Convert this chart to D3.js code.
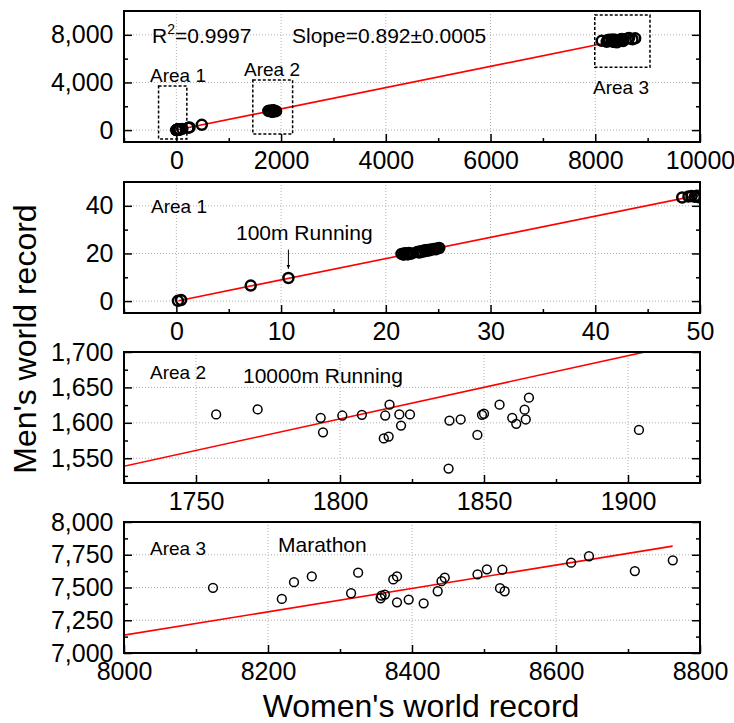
<!DOCTYPE html>
<html>
<head>
<meta charset="utf-8">
<script src="https://cdn.jsdelivr.net/npm/d3@7"></script>
<style>
body{margin:0;background:#fff;}
svg text{font-family:"Liberation Sans",Arial,sans-serif;fill:#000;}
</style>
</head>
<body>
<svg id="chart" width="734" height="723"></svg>
<script>
// values (women / men world records)
var area1Women = [0.15, 0.45, 7.1, 10.7, 21.5, 21.7, 21.8, 22.0, 22.1, 22.2, 22.3, 22.5, 23.0, 23.2, 23.3, 23.5, 23.7, 23.8, 24.0, 24.1, 24.2, 24.4, 24.6, 24.8, 24.9, 25.1, 48.3, 48.9, 49.2, 49.5, 49.7, 49.9];
var area1Men   = [0.1, 0.45, 6.5, 9.7, 19.8, 19.5, 20.1, 20.0, 19.6, 20.2, 19.9, 20.0, 20.6, 20.4, 20.9, 20.7, 21.3, 21.0, 21.4, 21.2, 21.6, 21.7, 21.9, 21.8, 22.1, 22.3, 43.5, 43.9, 44.1, 43.8, 44.2, 43.6];
var midWomen = [113, 230, 252, 486];
var midMen   = [101, 206, 223, 440];
var area2Women = [1757.0, 1771.4, 1793.3, 1794.1, 1800.8, 1807.6, 1815.7, 1817.2, 1815.2, 1816.9, 1820.6, 1821.2, 1824.3, 1838.0, 1837.7, 1841.9, 1847.7, 1849.3, 1850.0, 1855.4, 1859.8, 1861.2, 1864.1, 1864.5, 1865.6, 1903.8];
var area2Men   = [1611.8, 1618.9, 1607.1, 1586.6, 1610.3, 1611.3, 1610.3, 1625.6, 1578.0, 1580.5, 1611.8, 1596.1, 1611.8, 1603.2, 1535.4, 1604.7, 1582.9, 1611.3, 1612.8, 1625.6, 1607.1, 1598.5, 1618.5, 1604.7, 1635.5, 1590.0];
var area3Women = [8123.6, 8219.2, 8236.1, 8260.8, 8315.4, 8325.2, 8356.4, 8357.7, 8362.3, 8374.0, 8379.2, 8379.2, 8395.4, 8416.2, 8435.7, 8441.0, 8445.5, 8491.0, 8504.0, 8522.2, 8525.5, 8528.7, 8621.0, 8645.8, 8709.5, 8762.2];
var area3Men   = [7497.7, 7413.0, 7541.0, 7584.6, 7456.0, 7613.0, 7418.0, 7438.5, 7446.0, 7561.5, 7584.6, 7387.0, 7407.7, 7379.0, 7471.5, 7548.5, 7574.6, 7600.0, 7638.5, 7494.6, 7636.0, 7471.5, 7689.7, 7738.5, 7625.6, 7707.7];

var fitSlope = 0.892;
var fitRange = [0.2, 8762];

// tick values
var p1XTicks = [0, 2000, 4000, 6000, 8000, 10000], p1XMinor = [-1000, 1000, 3000, 5000, 7000, 9000];
var p1YTicks = [0, 4000, 8000], p1YMinor = [2000, 6000];
var p2XTicks = [0, 10, 20, 30, 40, 50], p2XMinor = [-5, 5, 15, 25, 35, 45];
var p2YTicks = [0, 20, 40], p2YMinor = [10, 30];
var p3XTicks = [1750, 1800, 1850, 1900], p3XMinor = [1725, 1775, 1825, 1875, 1925];
var p3YTicks = [1550, 1600, 1650, 1700], p3YMinor = [1525, 1575, 1625, 1675];
var p4XTicks = [8000, 8200, 8400, 8600, 8800], p4XMinor = [8100, 8300, 8500, 8700];
var p4YTicks = [7000, 7250, 7500, 7750, 8000], p4YMinor = [7125, 7375, 7625, 7875];

// dashed boxes of panel 1 (data coords)
var boxX0 = [-340, 1460, 7990], boxX1 = [200, 2220, 9045];
var boxY0 = [-750, -330, 5270], boxY1 = [3700, 4200, 9660];

var svg = d3.select('svg#chart');
var frameLeft = 124, frameRight = 700, frameH = 131;
var tickFont = 25;

var panels = [
    {top: 11, xd: [-1000, 10000], yd: [-1000, 10000], xt: p1XTicks, xm: p1XMinor, yt: p1YTicks, ym: p1YMinor, yf: d3.format(','),
     w: area1Women.concat(midWomen, area2Women, area3Women), m: area1Men.concat(midMen, area2Men, area3Men), r: 5, sw: 2.5},
    {top: 182, xd: [-5, 50], yd: [-5, 50], xt: p2XTicks, xm: p2XMinor, yt: p2YTicks, ym: p2YMinor, yf: d3.format('d'),
     w: area1Women, m: area1Men, r: 5, sw: 2.5},
    {top: 352, xd: [1725, 1925], yd: [1515, 1700], xt: p3XTicks, xm: p3XMinor, yt: p3YTicks, ym: p3YMinor, yf: d3.format(','),
     w: area2Women, m: area2Men, r: 4.4, sw: 1.5},
    {top: 522, xd: [8000, 8800], yd: [7000, 8000], xt: p4XTicks, xm: p4XMinor, yt: p4YTicks, ym: p4YMinor, yf: d3.format(','),
     w: area3Women, m: area3Men, r: 4.4, sw: 1.5}
];

var scales = [];

var drawPanel = function(p, idx){
    var top = p.top, bottom = p.top + frameH;
    var x = d3.scaleLinear().domain(p.xd).range([frameLeft, frameRight]);
    var y = d3.scaleLinear().domain(p.yd).range([bottom, top]);
    scales.push({x: x, y: y});
    var g = svg.append('g');

    g.append('clipPath').attr('id', 'clip' + idx)
        .append('rect').attr('x', frameLeft).attr('y', top)
        .attr('width', frameRight - frameLeft).attr('height', frameH);

    // dotted grid
    var inX = p.xt.filter(function(v){return v > p.xd[0] && v < p.xd[1];});
    var inY = p.yt.filter(function(v){return v > p.yd[0] && v < p.yd[1];});
    g.selectAll('line.gx').data(inX).enter().append('line')
        .attr('x1', function(d){return x(d);}).attr('x2', function(d){return x(d);})
        .attr('y1', top).attr('y2', bottom)
        .attr('stroke', '#b0b0b0').attr('stroke-width', 1).attr('stroke-dasharray', '1,2');
    g.selectAll('line.gy').data(inY).enter().append('line')
        .attr('y1', function(d){return y(d);}).attr('y2', function(d){return y(d);})
        .attr('x1', frameLeft).attr('x2', frameRight)
        .attr('stroke', '#b0b0b0').attr('stroke-width', 1).attr('stroke-dasharray', '1,2');

    var inner = g.append('g').attr('clip-path', 'url(#clip' + idx + ')');

    // fitted line
    inner.append('line')
        .attr('x1', x(fitRange[0])).attr('y1', y(fitRange[0] * fitSlope))
        .attr('x2', x(fitRange[1])).attr('y2', y(fitRange[1] * fitSlope))
        .attr('stroke', '#ff0000').attr('stroke-width', 1.6);

    // points
    inner.selectAll('circle').data(p.w).enter().append('circle')
        .attr('cx', function(d){return x(d);})
        .attr('cy', function(d, i){return y(p.m[i]);})
        .attr('r', p.r)
        .attr('fill', 'none').attr('stroke', '#000').attr('stroke-width', p.sw);

    // axes: ticks point inward
    g.append('g').attr('transform', 'translate(0,' + bottom + ')')
        .call(d3.axisBottom(x).tickValues(p.xt).tickSize(-8).tickPadding(9).tickFormat(d3.format('d')));
    g.append('g').attr('transform', 'translate(0,' + bottom + ')')
        .call(d3.axisBottom(x).tickValues(p.xm).tickSize(-4).tickFormat(''));
    g.append('g').attr('transform', 'translate(' + frameLeft + ',0)')
        .call(d3.axisLeft(y).tickValues(p.yt).tickSize(-8).tickPadding(10.5).tickFormat(p.yf));
    g.append('g').attr('transform', 'translate(' + frameLeft + ',0)')
        .call(d3.axisLeft(y).tickValues(p.ym).tickSize(-4).tickFormat(''));
    g.append('g').attr('transform', 'translate(' + frameRight + ',0)')
        .call(d3.axisRight(y).tickValues(p.yt).tickSize(-8).tickFormat(''));
    g.append('g').attr('transform', 'translate(' + frameRight + ',0)')
        .call(d3.axisRight(y).tickValues(p.ym).tickSize(-4).tickFormat(''));

    g.selectAll('.domain').remove();
    g.selectAll('.tick line').attr('stroke', '#000').attr('stroke-width', 1.5);
    g.selectAll('.tick text').attr('font-size', tickFont).attr('font-family', '"Liberation Sans",Arial,sans-serif').attr('fill', '#000');

    // frame
    g.append('rect').attr('x', frameLeft).attr('y', top)
        .attr('width', frameRight - frameLeft).attr('height', frameH)
        .attr('fill', 'none').attr('stroke', '#000').attr('stroke-width', 2);
};

panels.forEach(drawPanel);

// panel 1 annotations
var s1 = scales[0];
svg.selectAll('rect.box').data(boxX0).enter().append('rect')
    .attr('x', function(d){return s1.x(d);})
    .attr('y', function(d, i){return s1.y(boxY1[i]);})
    .attr('width', function(d, i){return s1.x(boxX1[i]) - s1.x(d);})
    .attr('height', function(d, i){return s1.y(boxY0[i]) - s1.y(boxY1[i]);})
    .attr('fill', 'none').attr('stroke', '#000').attr('stroke-width', 1.5).attr('stroke-dasharray', '3,2');

var r2 = svg.append('text').attr('x', 152).attr('y', 43).attr('font-size', 21);
r2.append('tspan').text('R');
r2.append('tspan').attr('font-size', 14).attr('dy', -9).text('2');
r2.append('tspan').attr('dy', 9).text('=0.9997');
svg.append('text').attr('x', 292).attr('y', 43).attr('font-size', 21).text('Slope=0.892\u00b10.0005');

var labels = [
    {t: 'Area 1', x: 150, y: 82, s: 19},
    {t: 'Area 2', x: 244, y: 76, s: 19},
    {t: 'Area 3', x: 593, y: 94, s: 19},
    {t: 'Area 1', x: 151, y: 213, s: 19},
    {t: '100m Running', x: 236, y: 240, s: 21},
    {t: 'Area 2', x: 150, y: 379, s: 19},
    {t: '10000m Running', x: 243, y: 383, s: 21},
    {t: 'Area 3', x: 150, y: 555, s: 19},
    {t: 'Marathon', x: 278, y: 552, s: 21}
];
svg.selectAll('text.lab').data(labels).enter().append('text')
    .attr('x', function(d){return d.x;}).attr('y', function(d){return d.y;})
    .attr('font-size', function(d){return d.s;})
    .text(function(d){return d.t;});

// arrow to the 100m point
var s2 = scales[1];
svg.append('defs').append('marker').attr('id', 'arr')
    .attr('viewBox', '0 0 10 10').attr('refX', 10).attr('refY', 5)
    .attr('markerWidth', 4).attr('markerHeight', 8).attr('orient', 'auto')
    .attr('markerUnits', 'userSpaceOnUse')
    .append('path').attr('d', 'M0,0L10,5L0,10z').attr('fill', '#000');
svg.append('line')
    .attr('x1', s2.x(10.7)).attr('x2', s2.x(10.7))
    .attr('y1', s2.y(21.6)).attr('y2', s2.y(13.6))
    .attr('stroke', '#000').attr('stroke-width', 1).attr('marker-end', 'url(#arr)');

// axis titles
svg.append('text').attr('x', 421).attr('y', 717).attr('text-anchor', 'middle')
    .attr('font-size', 32).text("Women's world record");
svg.append('text').attr('transform', 'translate(36,339) rotate(-90)').attr('text-anchor', 'middle')
    .attr('font-size', 32).text("Men's world record");
</script>
</body>
</html>
